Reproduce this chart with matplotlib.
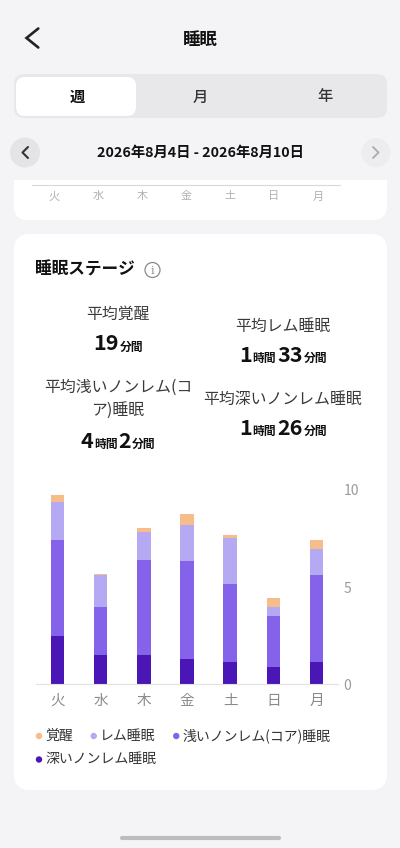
import matplotlib
matplotlib.use('Agg')
import matplotlib.pyplot as plt
from matplotlib.patches import FancyBboxPatch, Circle, Rectangle
import numpy as np

plt.rcParams['font.family'] = ['Noto Sans CJK JP', 'DejaVu Sans']

# データ (時間)
days = ['火', '水', '木', '金', '土', '日', '月']
awake = [0.33, 0.07, 0.20, 0.60, 0.15, 0.44, 0.48]
rem = [1.96, 1.61, 1.44, 1.85, 2.37, 0.48, 1.35]
light = [4.94, 2.51, 4.91, 5.01, 4.03, 2.61, 4.46]
deep = [2.50, 1.49, 1.49, 1.32, 1.15, 0.91, 1.15]
stage_names = ['覚醒', 'レム睡眠', '浅いノンレム(コア)睡眠', '深いノンレム睡眠']
stage_colors = ['#f6bd8a', '#b6a9f3', '#8463ea', '#4a17b6']
yticks = [0, 5, 10]

avg_labels = ['平均覚醒', '平均レム睡眠', '平均浅いノンレム(コ\nア)睡眠', '平均深いノンレム睡眠']
avg_minutes = [19, 93, 242, 86]

title = '睡眠'
tabs = ['週', '月', '年']
date_range = '2026年8月4日 - 2026年8月10日'
card_title = '睡眠ステージ'

W, H = 400, 848
BG = '#f4f4f6'
fig = plt.figure(figsize=(W / 100, H / 100), dpi=100)
fig.patch.set_facecolor(BG)
bg = fig.add_axes([0, 0, 1, 1])
bg.set_xlim(0, W)
bg.set_ylim(H, 0)
bg.axis('off')
renderer = fig.canvas.get_renderer()


def rbox(x0, y0, x1, y1, r, color, z=1):
    p = FancyBboxPatch((x0, y0), x1 - x0, y1 - y0,
                       boxstyle=f'round,pad=0,rounding_size={r}',
                       fc=color, ec='none', zorder=z)
    bg.add_patch(p)
    return p


def text_w(t):
    return t.get_window_extent(renderer).width


def duration_parts(m):
    h, mm = divmod(m, 60)
    parts = []
    if h:
        parts += [(str(h), 15.5), ('時間', 8.5)]
    parts += [(str(mm), 15.5), ('分間', 8.5)]
    return parts


def draw_parts(cx, y, parts, gap=1.0):
    objs = []
    for s, size in parts:
        t = bg.text(0, y, s, fontsize=size, fontweight='bold', color='#111',
                    ha='left', va='baseline', zorder=5)
        objs.append(t)
    widths = [text_w(t) for t in objs]
    total = sum(widths) + gap * (len(objs) - 1)
    x = cx - total / 2
    for t, w in zip(objs, widths):
        t.set_x(x)
        x += w + gap


# 上部の切れたカード
rbox(14, 150, 387, 220, 14, 'white', z=1)
bg.text(343, 183, '10', fontsize=9, color='#aaa', va='bottom', ha='left', zorder=2)
bg.add_patch(Rectangle((0, 0), W, 180, fc=BG, ec='none', zorder=3))
ax_top = fig.add_axes([32 / W, 1 - 190 / H, 308 / W, 5 / H])
ax_top.set_xlim(-0.5, len(days) - 0.5)
ax_top.set_facecolor('none')
for s in ['bottom', 'left', 'right']:
    ax_top.spines[s].set_visible(False)
ax_top.spines['top'].set_color('#d9d9d9')
ax_top.set_yticks([])
ax_top.set_xticks(np.arange(len(days)), days)
ax_top.tick_params(axis='x', length=0, pad=1, labelsize=8, labelcolor='#b0b0b0')

# ヘッダー
bg.plot([38.3, 26.5, 38.3], [28.5, 38, 47.5], color='#222', lw=1.9,
        solid_capstyle='round', solid_joinstyle='miter', zorder=4)
bg.text(200, 40, title, fontsize=12.5, fontweight='bold', color='#111',
        ha='center', va='center', zorder=4)

rbox(14, 74, 387, 118, 10, '#e8e8ea', z=4)
rbox(16, 77, 136, 116, 9, 'white', z=5)
for i, (tab, tx) in enumerate(zip(tabs, [77, 200, 325])):
    bg.text(tx, 97, tab, fontsize=11, fontweight='bold' if i == 0 else 'medium',
            color='#111' if i == 0 else '#333', ha='center', va='center', zorder=6)

bg.add_patch(Circle((25, 152.5), 15, fc='#e4e4e6', ec='none', zorder=4))
bg.plot([28, 22.5, 28], [147, 152.5, 158], color='#333', lw=1.5,
        solid_capstyle='round', zorder=5)
bg.add_patch(Circle((376, 152.5), 14.5, fc='#ededef', ec='none', zorder=4))
bg.plot([373, 378.5, 373], [147, 152.5, 158], color='#aaa', lw=1.3,
        solid_capstyle='round', zorder=5)
bg.text(200, 153, date_range, fontsize=10.3, fontweight='bold', color='#111',
        ha='center', va='center', zorder=5)

# メインカード
rbox(14, 234, 387, 790, 16, 'white', z=1)
bg.text(35, 270, card_title, fontsize=12, fontweight='bold', color='#111',
        ha='left', va='center', zorder=5)
bg.add_patch(Circle((152.5, 270), 7.5, fc='none', ec='#8a8a8a', lw=0.9, zorder=5))
bg.text(152.5, 270.5, 'i', fontsize=8, family='DejaVu Serif', color='#8a8a8a',
        ha='center', va='center', zorder=5)

# 平均値
label_pos = [(118, 314), (283, 326), (118, 399), (283, 399)]
value_base = [350.5, 362, 448, 435]
for lab, (lx, ly), vb, m in zip(avg_labels, label_pos, value_base, avg_minutes):
    bg.text(lx, ly, lab, fontsize=11.4, color='#3a3a3a', ha='center', va='center',
            linespacing=1.5, zorder=5)
    draw_parts(lx, vb, duration_parts(m))

# 積み上げ棒グラフ
ax = fig.add_axes([36 / W, 1 - 684.3 / H, 302 / W, 194.3 / H])
x = np.arange(len(days))
bottom = np.zeros(len(days))
for vals, c in zip([deep, light, rem, awake], stage_colors[::-1]):
    ax.bar(x, vals, width=0.31, bottom=bottom, color=c, zorder=2)
    bottom += np.array(vals)
ax.set_xlim(-0.5, len(days) - 0.5)
ax.set_ylim(0, 10)
ax.set_facecolor('none')
for s in ['top', 'left', 'right']:
    ax.spines[s].set_visible(False)
ax.spines['bottom'].set_color('#e2e2e2')
ax.yaxis.tick_right()
ax.set_yticks(yticks)
ax.tick_params(axis='y', length=0, pad=4, labelsize=10, labelcolor='#9a9a9a')
ax.set_xticks(x, days)
ax.tick_params(axis='x', length=0, pad=7, labelsize=10.5, labelcolor='#8a8a8a')

# 凡例
lx, ly = 36, 736
for name, c in zip(stage_names, stage_colors):
    t = bg.text(0, ly, name, fontsize=10, color='#333', ha='left', va='center', zorder=5)
    w = text_w(t)
    if lx + 10 + w > 365:
        lx = 36
        ly += 23.5
        t.set_y(ly)
    bg.add_patch(Circle((lx + 3, ly), 3.2, fc=c, ec='none', zorder=5))
    t.set_x(lx + 9)
    lx += 9 + w + 18

# ホームインジケーター
bg.plot([122, 279], [837.5, 837.5], lw=3, color='#bcbcbc', solid_capstyle='round', zorder=5)

fig.savefig('out.png', dpi=100, facecolor=fig.get_facecolor())
